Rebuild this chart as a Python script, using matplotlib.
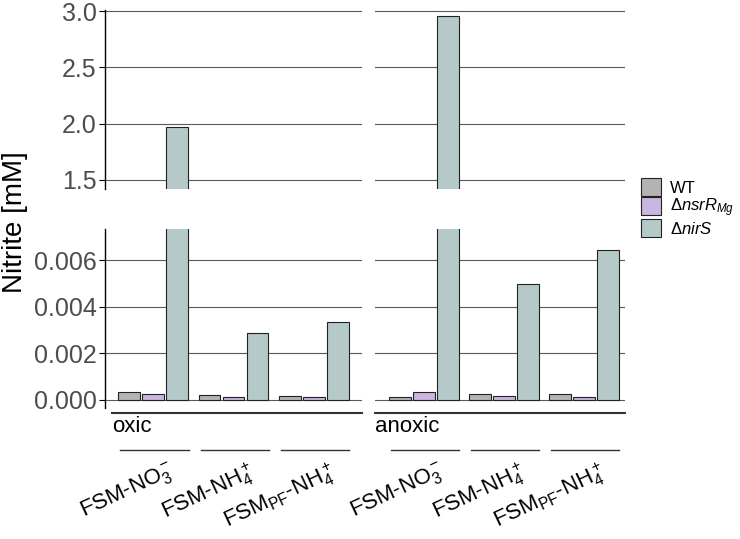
import matplotlib
matplotlib.use('Agg')
import matplotlib.pyplot as plt
import matplotlib.transforms as mtransforms
from matplotlib.patches import Patch
import numpy as np

plt.rcParams['font.family'] = ['Liberation Sans', 'DejaVu Sans']
plt.rcParams['mathtext.fontset'] = 'custom'
plt.rcParams['mathtext.rm'] = 'Liberation Sans'
plt.rcParams['mathtext.it'] = 'Liberation Sans:italic'
plt.rcParams['mathtext.bf'] = 'Liberation Sans:bold'

# data (mM nitrite)
conditions = ['oxic', 'anoxic']
media = ['FSM-NO$_3^-$', 'FSM-NH$_4^+$', 'FSM$_{\\mathrm{PF}}$-NH$_4^+$']
strains = ['WT', 'Δ$\\mathit{nsrR}_{\\mathit{Mg}}$', 'Δ$\\mathit{nirS}$']
oxic_wt = [0.00035, 0.00020, 0.00017]
oxic_nsr = [0.00026, 0.00012, 0.00012]
oxic_nirs = [1.97, 0.00287, 0.00334]
anoxic_wt = [0.00012, 0.00027, 0.00027]
anoxic_nsr = [0.00035, 0.00017, 0.00012]
anoxic_nirs = [2.955, 0.00497, 0.00642]

colors = ['#b3b3b3', '#c9b5e0', '#b5c9c9']
grid_col = '#5a5a5a'
tick_col = '#4d4d4d'

data = {'oxic': [oxic_wt, oxic_nsr, oxic_nirs],
        'anoxic': [anoxic_wt, anoxic_nsr, anoxic_nirs]}

fig = plt.figure(figsize=(7.4, 5.39), dpi=100)
W, H = 740, 539

def px(l, t, r, b):
    return [l / W, 1 - b / H, (r - l) / W, (b - t) / H]

panels = {
    'oxic': (px(105, 10, 362, 189), px(105, 229, 362, 408), (0.40, 3.60)),
    'anoxic': (px(375, 10, 625, 189), px(375, 229, 625, 408), (0.39, 3.51)),
}

x = np.arange(1, len(media) + 1)
offsets = [-0.3, 0.0, 0.3]

for ci, cond in enumerate(conditions):
    top_pos, bot_pos, xl = panels[cond]
    ax_t = fig.add_axes(top_pos)
    ax_b = fig.add_axes(bot_pos)
    for ax in (ax_t, ax_b):
        for si, vals in enumerate(data[cond]):
            ax.bar(x + offsets[si], vals, width=0.27, color=colors[si],
                   edgecolor='#222222', linewidth=0.8, zorder=3)
        ax.set_xlim(*xl)
        ax.set_xticks([])
        ax.grid(axis='y', color=grid_col, linewidth=0.8, zorder=0)
        for s in ['top', 'right', 'bottom']:
            ax.spines[s].set_visible(False)
        ax.set_facecolor('none')
    ax_t.set_ylim(1.42, 3.009)
    ax_t.set_yticks([1.5, 2.0, 2.5, 3.0])
    ax_b.set_ylim(-0.000343, 0.00733)
    ax_b.set_yticks([0.0, 0.002, 0.004, 0.006])
    if ci == 0:
        ax_t.set_yticklabels(['1.5', '2.0', '2.5', '3.0'])
        ax_b.set_yticklabels(['0.000', '0.002', '0.004', '0.006'])
        for ax in (ax_t, ax_b):
            ax.spines['left'].set_color('black')
            ax.spines['left'].set_linewidth(1.0)
            ax.tick_params(axis='y', labelsize=18, colors=tick_col,
                           length=4, width=0.8, pad=2)
            ax.tick_params(axis='y', color='black')
    else:
        for ax in (ax_t, ax_b):
            ax.spines['left'].set_visible(False)
            ax.tick_params(axis='y', left=False, labelleft=False)

    # strip line and condition label
    tr = mtransforms.blended_transform_factory(ax_b.transAxes, fig.transFigure)
    x0 = 7 / 257 if ci == 0 else 0.0
    ax_b.plot([x0, 1.0], [1 - 413 / H] * 2, transform=tr, color='#333333',
              linewidth=1.5, clip_on=False)
    ax_b.text(x0, 1 - 427 / H, cond, transform=tr, fontsize=16,
              ha='left', va='center', color='black')

    # group lines and rotated media labels
    trd = mtransforms.blended_transform_factory(ax_b.transData, fig.transFigure)
    for gi, m in enumerate(media):
        c = x[gi]
        ax_b.plot([c - 0.41, c + 0.44], [1 - 450 / H] * 2, transform=trd,
                  color='#333333', linewidth=1.0, clip_on=False)
        ax_b.text(c + 0.18, 1 - 459 / H, m, transform=trd, fontsize=16,
                  rotation=25, rotation_mode='anchor', ha='right', va='top',
                  color='black')

fig.text(15 / W, 1 - 222 / H, 'Nitrite [mM]', rotation=90, fontsize=20,
         ha='center', va='center', color='black')

handles = [Patch(facecolor=colors[i], edgecolor='#222222', linewidth=0.8)
           for i in range(3)]
fig.legend(handles, strains, loc='upper left',
           bbox_to_anchor=(641 / W, 1 - 178 / H), frameon=False, fontsize=12,
           handlelength=1.2, handleheight=1.32, labelspacing=0.0,
           handletextpad=0.55, borderpad=0, borderaxespad=0)

fig.savefig('out.png', dpi=100)
